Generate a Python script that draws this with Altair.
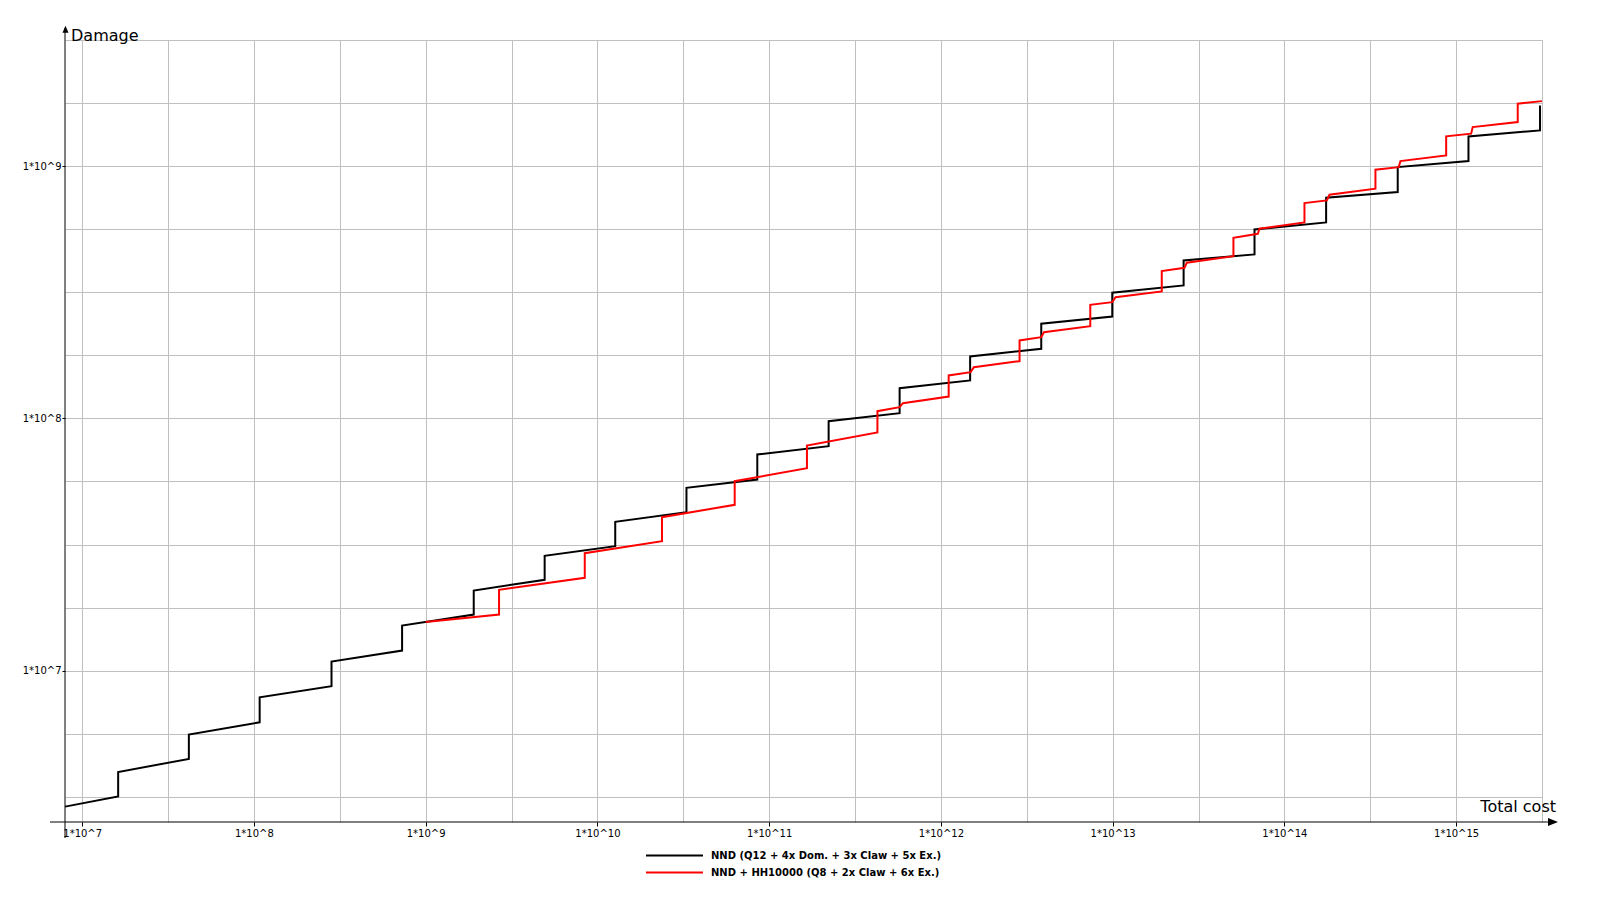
import altair as alt
import pandas as pd

NAME_A = "NND (Q12 + 4x Dom. + 3x Claw + 5x Ex.)"
NAME_B = "NND + HH10000 (Q8 + 2x Claw + 6x Ex.)"

black_cost = [7.95e6, 1.62e7, 1.62e7, 4.18e7, 4.18e7, 1.08e8, 1.08e8, 2.83e8, 2.83e8,
              7.29e8, 7.29e8, 1.905e9, 1.905e9, 4.93e9, 4.93e9, 1.27e10, 1.27e10,
              3.30e10, 3.30e10, 8.53e10, 8.53e10, 2.22e11, 2.22e11, 5.75e11, 5.75e11,
              1.48e12, 1.48e12, 3.84e12, 3.84e12, 9.95e12, 9.95e12, 2.59e13, 2.59e13,
              6.70e13, 6.70e13, 1.75e14, 1.75e14, 4.57e14, 4.57e14, 1.18e15, 1.18e15,
              3.08e15, 3.08e15]
black_damage = [2.89e6, 3.17e6, 3.96e6, 4.47e6, 5.58e6, 6.24e6, 7.84e6, 8.68e6, 1.087e7,
                1.201e7, 1.509e7, 1.669e7, 2.078e7, 2.291e7, 2.852e7, 3.114e7, 3.890e7,
                4.248e7, 5.306e7, 5.723e7, 7.193e7, 7.758e7, 9.748e7, 1.049e8, 1.317e8,
                1.414e8, 1.760e8, 1.888e8, 2.372e8, 2.535e8, 3.148e8, 3.365e8, 4.228e8,
                4.466e8, 5.611e8, 5.983e8, 7.495e8, 7.888e8, 9.91e8, 1.047e9, 1.312e9,
                1.385e9, 1.740e9]

red_cost = [1.0e9, 2.675e9, 2.675e9, 8.44e9, 8.44e9, 2.377e10, 2.377e10, 6.30e10, 6.30e10,
            1.660e11, 1.660e11, 4.27e11, 4.27e11, 5.75e11, 6.01e11, 1.110e12, 1.110e12,
            1.490e12, 1.556e12, 2.871e12, 2.871e12, 3.84e12, 3.98e12, 7.41e12, 7.41e12,
            9.95e12, 1.04e13, 1.932e13, 1.932e13, 2.62e13, 2.70e13, 5.05e13, 5.05e13,
            7.00e13, 7.16e13, 1.309e14, 1.309e14, 1.767e14, 1.830e14, 3.39e14, 3.39e14,
            4.63e14, 4.74e14, 8.75e14, 8.75e14, 1.223e15, 1.249e15, 2.284e15, 2.284e15,
            3.16e15]
red_damage = [1.560e7, 1.669e7, 2.091e7, 2.333e7, 2.921e7, 3.260e7, 4.058e7, 4.544e7, 5.636e7,
              6.346e7, 7.807e7, 8.795e7, 1.068e8, 1.108e8, 1.149e8, 1.221e8, 1.480e8,
              1.525e8, 1.596e8, 1.686e8, 2.037e8, 2.099e8, 2.197e8, 2.321e8, 2.821e8,
              2.889e8, 3.024e8, 3.186e8, 3.835e8, 3.955e8, 4.140e8, 4.396e8, 5.201e8,
              5.395e8, 5.647e8, 5.983e8, 7.134e8, 7.311e8, 7.700e8, 8.135e8, 9.676e8,
              9.91e8, 1.047e9, 1.103e9, 1.312e9, 1.345e9, 1.428e9, 1.495e9, 1.768e9,
              1.810e9]

x_ticks = [10 ** (e / 2) for e in range(14, 32)]   # 1e7 .. 1e15.5, half decades
y_ticks = [10 ** (e / 4) for e in range(26, 39)]   # 1e6.5 .. 1e9.5, quarter decades
x_domain = [10 ** 6.9, 10 ** 15.5]
y_domain = [10 ** 6.4, 10 ** 9.5]

rows = []
for i, (c, d) in enumerate(zip(black_cost, black_damage)):
    rows.append({"cost": c, "damage": d, "series": NAME_A, "idx": i})
for i, (c, d) in enumerate(zip(red_cost, red_damage)):
    rows.append({"cost": c, "damage": d, "series": NAME_B, "idx": i})
df = pd.DataFrame(rows)

LOG = "log(datum.value)/LN10"
IS_DECADE = f"abs({LOG} - round({LOG})) < 0.001"
LABEL = f"({IS_DECADE}) ? '1*10^' + round({LOG}) : ''"
FONT = "DejaVu Sans"

x_axis = alt.Axis(values=x_ticks, labelExpr=LABEL, title=None, grid=True,
                  gridColor="#c0c0c0", gridWidth=1, domain=False,
                  tickColor={"condition": {"test": IS_DECADE, "value": "black"}, "value": "transparent"},
                  tickSize=4, labelPadding=2, labelFont=FONT, labelFontSize=10,
                  labelColor="black", labelOverlap=False, labelFlush=False, labelBound=False)
y_axis = alt.Axis(values=y_ticks, labelExpr=LABEL, title=None, grid=True,
                  gridColor="#c0c0c0", gridWidth=1, domain=False,
                  tickColor={"condition": {"test": IS_DECADE, "value": "black"}, "value": "transparent"},
                  tickSize=3, labelPadding=1, labelFont=FONT, labelFontSize=10,
                  labelColor="black", labelOverlap=False, labelFlush=False, labelBound=False)

lines = alt.Chart(df).mark_line(strokeWidth=2).encode(
    x=alt.X("cost:Q", scale=alt.Scale(type="log", domain=x_domain, nice=False), axis=x_axis),
    y=alt.Y("damage:Q", scale=alt.Scale(type="log", domain=y_domain, nice=False), axis=y_axis),
    color=alt.Color("series:N",
                    scale=alt.Scale(domain=[NAME_A, NAME_B], range=["#000000", "#ff0000"]),
                    legend=alt.Legend(orient="none", legendX=580, legendY=808, title=None,
                                      symbolType="stroke", symbolSize=3249, symbolStrokeWidth=2,
                                      clipHeight=15, rowPadding=2, labelFont=FONT,
                                      labelFontSize=10, labelFontWeight="bold",
                                      labelColor="black", labelOffset=7, padding=0,
                                      labelLimit=0)),
    order=alt.Order("idx:Q"),
)

one = pd.DataFrame({"k": [0]})
base = alt.Chart(one)
y_line = base.mark_rule(color="black", strokeWidth=1).encode(
    x=alt.value(0), y=alt.value(-12), y2=alt.value(798))
x_line = base.mark_rule(color="black", strokeWidth=1).encode(
    x=alt.value(-15), x2=alt.value(1488), y=alt.value(782))
y_arrow = base.mark_point(shape="M0,-1L-0.86,1L0.86,1Z", filled=True, color="black",
                          opacity=1, size=49, strokeWidth=0).encode(
    x=alt.value(0.5), y=alt.value(-10.8))
x_arrow = base.mark_point(shape="M-1,-0.8L1,0L-1,0.8Z", filled=True, color="black",
                          opacity=1, size=100, strokeWidth=0).encode(
    x=alt.value(1488), y=alt.value(782))
t_damage = base.mark_text(align="left", baseline="alphabetic", font=FONT, fontSize=16,
                          color="black").encode(
    x=alt.value(6), y=alt.value(1), text=alt.value("Damage"))
t_cost = base.mark_text(align="right", baseline="alphabetic", font=FONT, fontSize=16,
                        color="black").encode(
    x=alt.value(1491), y=alt.value(772), text=alt.value("Total cost"))

chart = alt.layer(lines, y_line, x_line, y_arrow, x_arrow, t_damage, t_cost).properties(
    width=1477, height=782,
    padding={"left": 57, "top": 32, "right": 45, "bottom": 65},
    autosize=alt.AutoSizeParams(type="none"),
    background="white",
).configure_view(stroke=None)

chart.save("out.html", embed_options={"renderer": "svg", "actions": False})
